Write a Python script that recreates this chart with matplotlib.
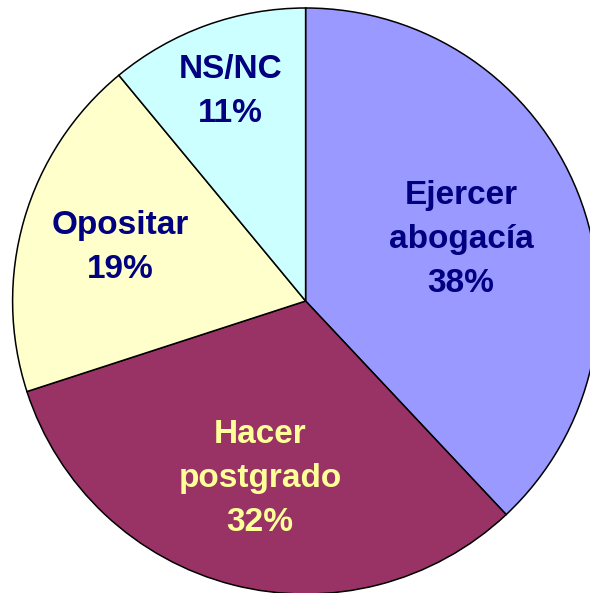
import matplotlib.pyplot as plt
import numpy as np

# datos
categorias = ["Ejercer\nabogacía", "Hacer\npostgrado", "Opositar", "NS/NC"]
porcentajes = [38, 32, 19, 11]

colores = ["#9999FF", "#993366", "#FFFFCC", "#CCFFFF"]
colores_texto = ["#000080", "#FFFF99", "#000080", "#000080"]
# distancia de la etiqueta al centro (fracción del radio)
dist_etiqueta = [0.57, 0.625, 0.66, 0.76]

fig = plt.figure(figsize=(5.90, 5.93), dpi=100)
ax = fig.add_axes([0, 0, 1, 1])

centro = (305.6, 292)
radio = 293

wedges, _ = ax.pie(
    porcentajes,
    colors=colores,
    startangle=90,
    counterclock=False,
    center=centro,
    radius=radio,
    wedgeprops=dict(edgecolor="black", linewidth=1.1),
)
ax.set_xlim(0, 590)
ax.set_ylim(0, 593)
ax.set_aspect("equal")
ax.axis("off")

for w, cat, pct, c, d in zip(wedges, categorias, porcentajes, colores_texto, dist_etiqueta):
    ang = np.deg2rad((w.theta1 + w.theta2) / 2)
    x = centro[0] + d * radio * np.cos(ang)
    y = centro[1] + d * radio * np.sin(ang)
    ax.text(x, y, f"{cat}\n{pct}%", ha="center", va="center", color=c,
            fontsize=24, fontweight="bold", family="Liberation Sans",
            linespacing=1.54)

fig.savefig("out.png", dpi=100)
